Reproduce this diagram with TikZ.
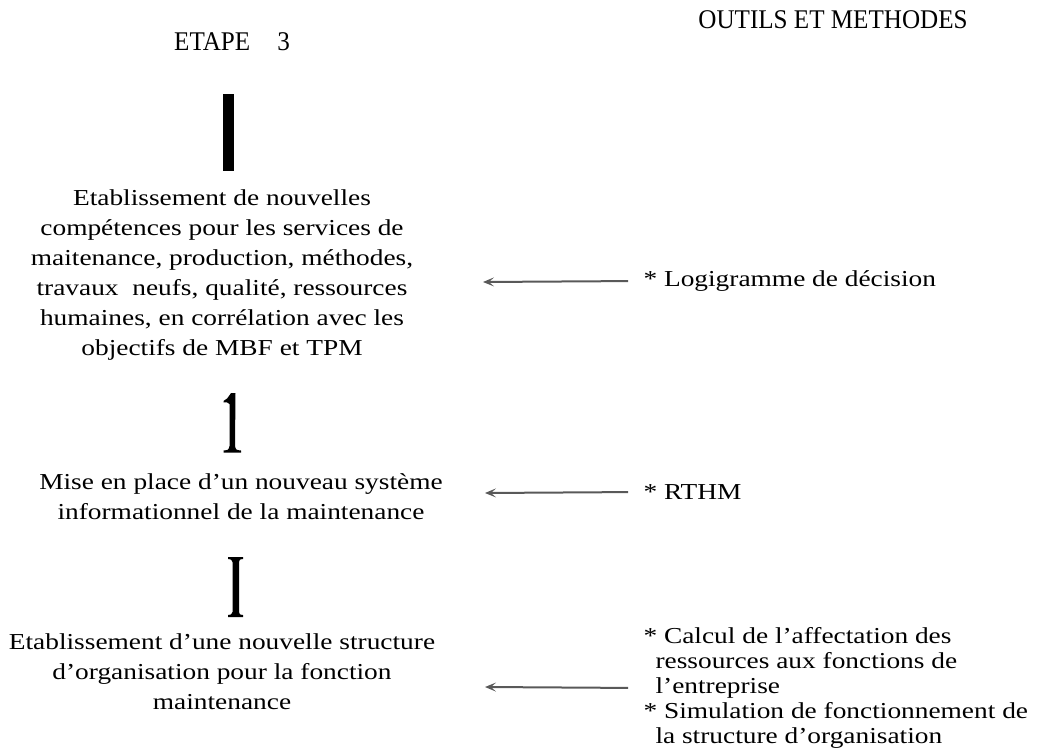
\documentclass[tikz,border=0pt]{standalone}
\usepackage{fontspec}
\setmainfont{Liberation Serif}
\newfontfamily\widefont[FakeStretch=1.2]{Liberation Serif}
\newfontfamily\headfont[FakeStretch=0.93]{Liberation Serif}
\usetikzlibrary{arrows.meta}
\tikzset{
  head/.style={font=\headfont\fontsize{27}{30}\selectfont},
  stage/.style={align=center, font=\widefont\fontsize{22.8}{30}\selectfont},
  tool/.style={align=left, anchor=west, font=\widefont\fontsize{22.8}{25}\selectfont},
  link/.style={draw=black!65, line width=2pt, shorten <=12pt, -{Stealth[length=11pt,width=9pt,inset=5pt]}}
}
\begin{document}
\begin{tikzpicture}[x=1pt, y=-1pt]
\useasboundingbox (0,0) rectangle (1037,752);
\node[head] (etape) at (232,42) {ETAPE\quad 3};\node[head] (outils) at (833,20) {OUTILS ET METHODES};
\fill (223,94) rectangle (234,171);
\node[stage] (s1) at (222,275) {Etablissement de nouvelles\\compétences pour les services de\\maitenance, production, méthodes,\\travaux\ \ neufs, qualité, ressources\\humaines, en corrélation avec les\\objectifs de MBF et TPM};
\fill (231,393) -- (235.5,393) -- (235,446) .. controls (236,450) .. (241,450.5) -- (241,452.5) -- (223.5,452.5) -- (223.5,450.5) .. controls (228.5,450) .. (229.5,446) -- (229.5,404) .. controls (227,402) .. (223.5,402.5) -- (223.5,401) .. controls (227,399) .. cycle;
\node[stage] (s2) at (241,497) {Mise en place d’un nouveau système\\informationnel de la maintenance};
\fill (228,557) -- (243,557) -- (243,559) .. controls (239.5,559.5) .. (239,562) -- (239,612) .. controls (239.5,614.5) .. (243,615) -- (243,617) -- (228,617) -- (228,615) .. controls (231.5,614.5) .. (232.5,612) -- (232.5,562) .. controls (231.5,559.5) .. (228,559) -- cycle;
\node[stage] (s3) at (222,672) {Etablissement d’une nouvelle structure\\d’organisation pour la fonction\\maintenance};
\node[tool] (t1) at (640,281) {* Logigramme de décision};
\node[tool] (t2) at (640,492) {* RTHM};
\node[tool] (t3) at (640,688) {* Calcul de l’affectation des\\\hspace{12pt}ressources aux fonctions de\\\hspace{12pt}l’entreprise\\* Simulation de fonctionnement de\\\hspace{12pt}la structure d’organisation};
\coordinate (e1) at (483,282);\coordinate (e2) at (485,493);\coordinate (e3) at (485,687);
\draw[link] (t1.west) -- (e1);\draw[link] (t2.west) -- (e2);\draw[link] (t3.west) -- (e3);
\end{tikzpicture}
\end{document}
